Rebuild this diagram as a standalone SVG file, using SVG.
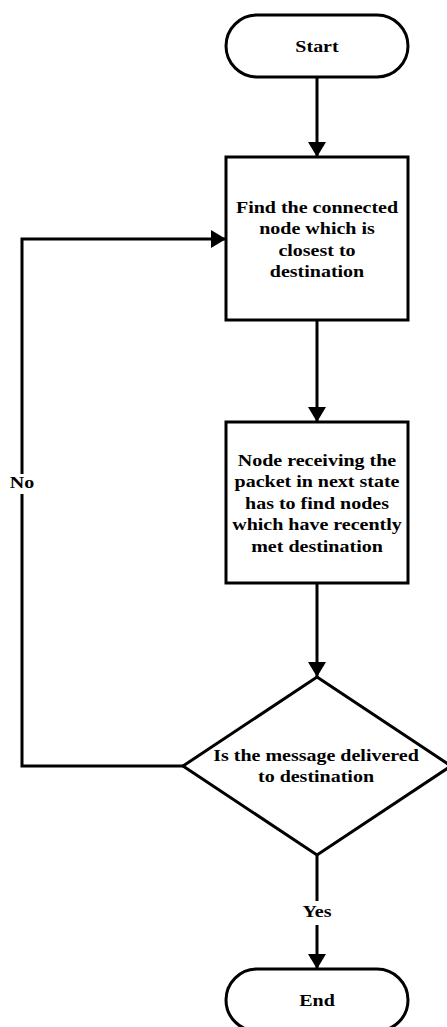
<svg xmlns="http://www.w3.org/2000/svg" width="447" height="1027" viewBox="0 0 447 1027">
<style>
.shape{fill:#fff;stroke:#000;stroke-width:3}
.conn{fill:none;stroke:#000;stroke-width:3}
.t{font-family:"Liberation Serif","Times New Roman",serif;font-weight:bold;font-size:17.6px;fill:#000;text-anchor:middle}
.lbl{fill:#fff;stroke:none}
</style>
<defs>
<marker id="arrow" markerUnits="userSpaceOnUse" markerWidth="16" markerHeight="18" refX="15" refY="9" orient="auto">
<path d="M0,0 L15,9 L0,18 z" fill="#000"/>
</marker>
</defs>
<rect width="447" height="1027" fill="#fff"/>
<g id="connectors">
<path class="conn" d="M317,77 V157" marker-end="url(#arrow)"/>
<path class="conn" d="M317,320 V422" marker-end="url(#arrow)"/>
<path class="conn" d="M317,583 V677" marker-end="url(#arrow)"/>
<path class="conn" d="M183,766 H22 V239 H226" marker-end="url(#arrow)"/>
<path class="conn" d="M317,855 V969" marker-end="url(#arrow)"/>
<rect class="lbl" x="8" y="474" width="28" height="20"/>
<text class="t" transform="translate(22,488) scale(1.136,1)">No</text>
<rect class="lbl" x="300" y="901" width="34" height="24"/>
<text class="t" transform="translate(317,917) scale(1.136,1)">Yes</text>
</g>
<g id="start">
<rect class="shape" x="226" y="15" width="182" height="62" rx="31" ry="31"/>
<text class="t" transform="translate(317,52) scale(1.136,1)">Start</text>
</g>
<g id="find">
<rect class="shape" x="226" y="157" width="182" height="163"/>
<text class="t" transform="translate(317,212.7) scale(1.136,1)">Find the connected</text>
<text class="t" transform="translate(317,234.1) scale(1.136,1)">node which is</text>
<text class="t" transform="translate(317,255.5) scale(1.136,1)">closest to</text>
<text class="t" transform="translate(317,276.9) scale(1.136,1)">destination</text>
</g>
<g id="receive">
<rect class="shape" x="226" y="422" width="182" height="161"/>
<text class="t" transform="translate(317,465.5) scale(1.136,1)">Node receiving the</text>
<text class="t" transform="translate(317,487) scale(1.136,1)">packet in next state</text>
<text class="t" transform="translate(317,508.5) scale(1.136,1)">has to find nodes</text>
<text class="t" transform="translate(317,530) scale(1.136,1)">which have recently</text>
<text class="t" transform="translate(317,551.5) scale(1.136,1)">met destination</text>
</g>
<g id="decision">
<polygon class="shape" points="317,677 451,766 317,855 183,766"/>
<text class="t" transform="translate(316,761) scale(1.136,1)">Is the message delivered</text>
<text class="t" transform="translate(316,782) scale(1.136,1)">to destination</text>
</g>
<g id="end">
<rect class="shape" x="226" y="969" width="182" height="62" rx="31" ry="31"/>
<text class="t" transform="translate(317,1006) scale(1.136,1)">End</text>
</g>
</svg>
